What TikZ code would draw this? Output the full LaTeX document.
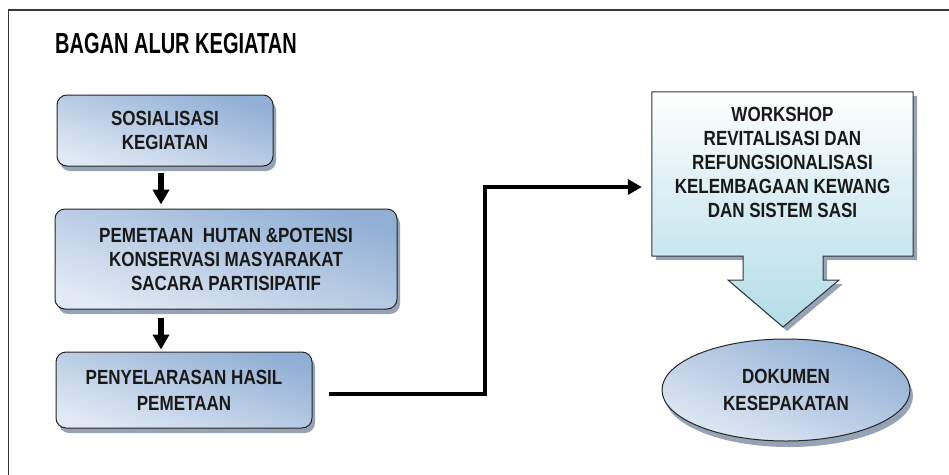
\documentclass[tikz,border=0pt]{standalone}
\usepackage{fontspec}
\setmainfont{Liberation Sans}
\newfontfamily\titlefont[FakeStretch=0.69]{Liberation Sans}
\newfontfamily\boxfont[FakeStretch=0.83]{Liberation Sans}
\usetikzlibrary{arrows.meta,shapes.geometric,shadows}
\definecolor{bdark}{RGB}{145,175,213}
\definecolor{blight}{RGB}{224,233,244}
\definecolor{cyanl}{RGB}{180,220,232}
\definecolor{cyanm}{RGB}{214,237,243}
\definecolor{shadowc}{RGB}{150,162,182}
\definecolor{framec}{RGB}{55,55,55}
\definecolor{txt}{RGB}{25,25,25}
\begin{document}
\begin{tikzpicture}[x=1pt,y=-1pt,
  boxtext/.style={font=\boxfont\bfseries\fontsize{20.5}{24}\selectfont, text=txt, align=center, inner sep=0pt},
  stepbox/.style={boxtext, draw=black!85, line width=1pt, rounded corners=10pt,
    top color=bdark, bottom color=blight, shading angle=-18,
    drop shadow={shadow xshift=3pt, shadow yshift=-5pt, fill=shadowc, opacity=1}},
  docell/.style={boxtext, ellipse, draw=black!85, line width=1pt,
    top color=bdark, bottom color=blight, shading angle=-22,
    drop shadow={shadow xshift=3pt, shadow yshift=-6pt, fill=shadowc, opacity=1}},
  callout/.style={draw=black!80, line width=1pt, top color=white, bottom color=cyanl, middle color=cyanm,
    drop shadow={shadow xshift=4pt, shadow yshift=-4pt, fill=shadowc, opacity=1}},
  vflow/.style={line width=5.5pt, -{Triangle[width=16pt,length=15pt]}},
  conn/.style={line width=4.5pt, -{Triangle[width=15pt,length=14pt]}}
]
\useasboundingbox (0,0) rectangle (949,474);
\fill[white] (0,0) rectangle (949,474);
% frame
\draw[framec, line width=1.3pt] (8.5,480) -- (8.5,10) -- (955,10);
% title
\node[anchor=base west, inner sep=0pt, font=\titlefont\bfseries\fontsize{29}{32}\selectfont] (title) at (55,53) {BAGAN ALUR KEGIATAN};
% left boxes
\node[stepbox, minimum width=216pt, minimum height=71pt] (b1) at (165,130.5) {SOSIALISASI\\KEGIATAN};
\node[stepbox, minimum width=342pt, minimum height=100pt] (b2) at (226,259) {PEMETAAN\ \ HUTAN \&POTENSI\\KONSERVASI MASYARAKAT\\SACARA PARTISIPATIF};
\node[stepbox, minimum width=256pt, minimum height=76pt] (b3) at (184,390) {PENYELARASAN HASIL\\[2pt]PEMETAAN};
% workshop callout
\node[minimum width=261pt, minimum height=164pt, inner sep=0pt] (ws) at (782.5,174) {};
\draw[callout] (ws.north west) -- (ws.north east) -- (ws.south east) -- (823,256) -- (823,280) -- (839,280)
  -- (783,327) -- (728,280) -- (743,280) -- (743,256) -- (ws.south west) -- cycle;
\node[boxtext] (wstext) at (782.5,162) {WORKSHOP\\REVITALISASI DAN\\REFUNGSIONALISASI\\KELEMBAGAAN KEWANG\\DAN SISTEM SASI};
% document ellipse
\node[docell, minimum width=248pt, minimum height=102pt] (doc) at (786,390) {DOKUMEN\\[3pt]KESEPAKATAN};
% arrows
\draw[vflow, shorten <=6pt, shorten >=4pt] ([xshift=-4pt]b1.south) -- ([xshift=-4pt]b1.south |- b2.north);
\draw[vflow, shorten <=8pt, shorten >=2pt] ([xshift=-65pt]b2.south) -- ([xshift=-65pt]b2.south |- b3.north);
\coordinate (turn) at (485,187);
\draw[conn, shorten >=10pt] ([xshift=16pt,yshift=-4pt]b3.east) -| (turn) -- (ws.west |- turn);
\end{tikzpicture}
\end{document}
